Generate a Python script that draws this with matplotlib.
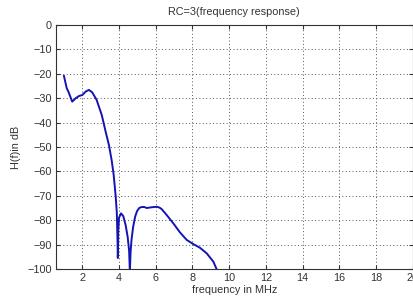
import numpy as np
import matplotlib
matplotlib.use("Agg")
import matplotlib.pyplot as plt

freq_mhz = [1.0, 1.15, 1.24, 1.45, 1.64, 1.82, 2.0, 2.18, 2.36, 2.54, 2.78, 3.06,
            3.27, 3.45, 3.6, 3.71, 3.82, 3.88, 3.92, 3.935, 3.96, 4.0, 4.11, 4.23,
            4.36, 4.47, 4.55, 4.59, 4.63, 4.68, 4.77, 4.88, 4.98, 5.1, 5.23, 5.38,
            5.51, 5.78, 6.05, 6.2, 6.33, 6.6, 6.96, 7.32, 7.69, 8.05, 8.41, 8.78,
            9.14, 9.33]
h_db = [-20.9, -25.9, -27.3, -31.4, -30.0, -29.1, -28.7, -27.3, -26.6, -27.6, -30.7, -36.9,
        -43.7, -49.2, -55.5, -61.5, -70.4, -77.0, -89.0, -95.5, -84.0, -79.0, -77.2, -78.3,
        -82.0, -86.8, -92.5, -101.0, -93.0, -88.0, -82.7, -78.5, -76.3, -75.0, -74.6, -74.6,
        -75.0, -74.7, -74.5, -74.8, -75.5, -77.9, -81.3, -85.0, -88.1, -89.8, -91.3, -93.6,
        -97.0, -100.3]

xticks = [2, 4, 6, 8, 10, 12, 14, 16, 18, 20]
yticks = [0, -10, -20, -30, -40, -50, -60, -70, -80, -90, -100]

plt.rcParams['font.family'] = ['Liberation Sans', 'DejaVu Sans']
W, H = 413, 296
fig = plt.figure(figsize=(W/100, H/100), dpi=100)
ax = fig.add_axes([55.7/W, 1-269/H, (412.7-55.7)/W, (269-25)/H])

ax.plot(freq_mhz, h_db, color='#1414b4', lw=1.4, solid_joinstyle='round')
ax.set_xlim(0.55, 20)
ax.set_ylim(-100, 0)
ax.set_xticks(xticks)
ax.set_yticks(yticks)
ax.grid(True, linestyle=(0, (1, 2.5)), color='#555555', lw=0.7)
ax.tick_params(direction='in', length=3, labelsize=7.8, colors='#333333',
               top=True, right=True, pad=3)
for s in ax.spines.values():
    s.set_color('#333333')
    s.set_linewidth(0.8)
ax.set_title('RC=3(frequency response)', fontsize=7.8, color='#333333', pad=7)
ax.set_xlabel('frequency in MHz', fontsize=7.8, color='#333333', labelpad=1)
ax.set_ylabel('H(f)in dB', fontsize=7.8, color='#333333', labelpad=4)

fig.savefig('out.png', dpi=100)
